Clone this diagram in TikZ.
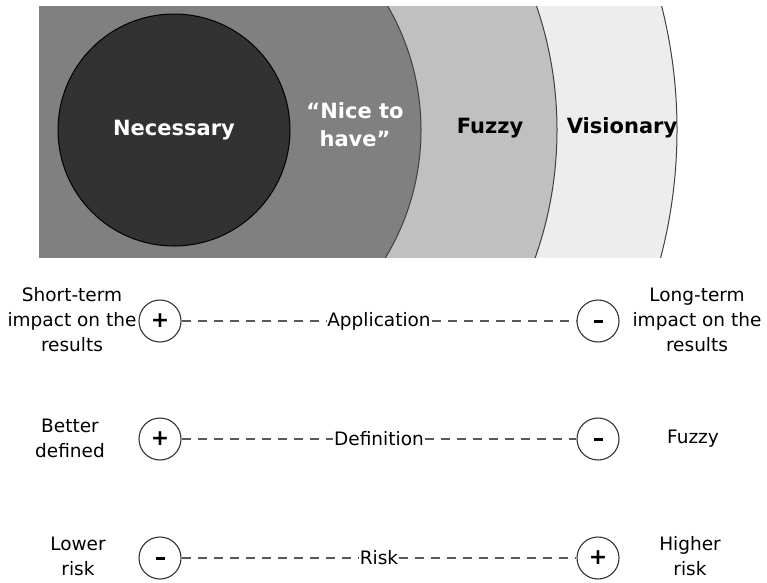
\documentclass[tikz,border=0pt]{standalone}
\usepackage{fontspec}
\setmainfont{DejaVu Sans}
\usepackage{tikz}
\usetikzlibrary{positioning,calc}
\definecolor{necgray}{HTML}{323232}
\definecolor{nicegray}{HTML}{808080}
\definecolor{fuzzgray}{HTML}{C0C0C0}
\definecolor{visgray}{HTML}{EDEDED}
\newcommand{\minussign}{\rule[-1.5pt]{9pt}{3pt}}
\tikzset{
	ring/.style={draw=black!75,line width=1pt},
	zone/.style={align=center,font=\fontsize{21}{28}\selectfont\bfseries},
	sign/.style={circle,draw=black!80,line width=1.1pt,minimum size=42pt,inner sep=0pt,
		font=\fontsize{22}{22}\selectfont\bfseries},
	side/.style={align=center,font=\fontsize{18.5}{25}\selectfont},
	axis/.style={inner sep=1pt,font=\fontsize{18.5}{20}\selectfont},
	dashline/.style={draw=black!65,line width=1.2pt,dash pattern=on 9pt off 7pt}
}

\begin{document}
\begin{tikzpicture}[x=1pt,y=-1pt]
	\useasboundingbox (0,0) rectangle (767,582);
	% the nested zones
	\coordinate (ctr) at (174,130);
	\begin{scope}
		\clip (39,6) rectangle (767,257);
		\fill[visgray] (ctr) circle[radius=503pt];
		\fill[fuzzgray] (ctr) circle[radius=383pt];
		\fill[nicegray] (ctr) circle[radius=247pt];
		\fill[necgray] (ctr) circle[radius=116pt];
		\draw[ring] (ctr) circle[radius=503pt];
		\draw[ring] (ctr) circle[radius=383pt];
		\draw[ring] (ctr) circle[radius=247pt];
		\draw[ring,draw=black] (ctr) circle[radius=116pt];
	\end{scope}
	\node[zone,white] (nec) at (ctr) {Necessary};
	\node[zone,white] (nice) at (355,125) {“Nice to\\have”};
	\node[zone] (fuzz) at (490,128) {Fuzzy};
	\node[zone] (vis) at (622,128) {Visionary};

	% the three scales
	\node[sign] (l1) at (160,321) {+};
	\node[sign] (r1) at (598,321) {\minussign};
	\node[sign] (l2) at (160,439) {+};
	\node[sign] (r2) at (598,439) {\minussign};
	\node[sign] (l3) at (160,558) {\minussign};
	\node[sign] (r3) at (598,558) {+};
	\node[side] (s1) at (72,320) {Short-term\\impact on the\\results};
	\node[side] (t1) at (697,320) {Long-term\\impact on the\\results};
	\node[side] (s2) at (70,438) {Better\\defined};
	\node[side] (t2) at (693,439) {Fuzzy};
	\node[side] (s3) at (78,556) {Lower\\risk};
	\node[side] (t3) at (690,556) {Higher\\risk};
	\path (l1) -- node[axis] (a1) {Application} (r1);
	\path (l2) -- node[axis] (a2) {Definition} (r2);
	\path (l3) -- node[axis] (a3) {Risk} (r3);
	\foreach \i in {1,2,3} {
		\draw[dashline] (l\i) -- (a\i);
		\draw[dashline] (a\i) -- (r\i);
	}
\end{tikzpicture}
\end{document}
